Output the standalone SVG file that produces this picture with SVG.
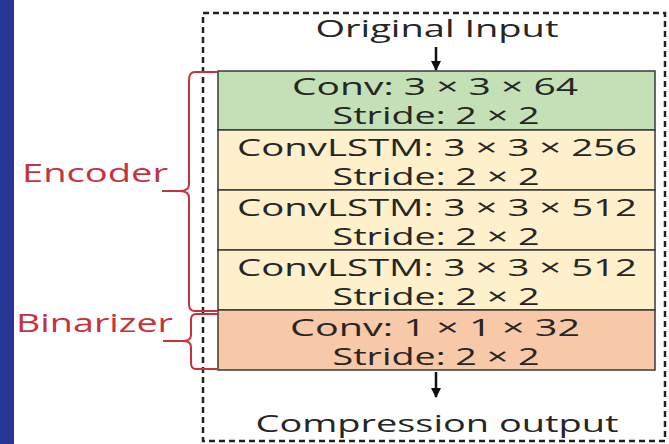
<svg xmlns="http://www.w3.org/2000/svg" width="669" height="444" viewBox="0 0 669 444">
<style>
.t{font-family:"Open Sans","DejaVu Sans",sans-serif;fill:#262626;text-anchor:middle;font-size:23px}
.lbl{font-family:"Open Sans","DejaVu Sans",sans-serif;fill:#c8323c;font-size:26px}
.box{stroke:#3a3a3a;stroke-width:1.5}
.br{fill:none;stroke:#c8323c;stroke-width:2}
</style>
<defs>
<marker id="ah" markerWidth="10" markerHeight="10" refX="9" refY="5" orient="auto" markerUnits="userSpaceOnUse" viewBox="0 0 10 10">
<path d="M0,0 L10,5 L0,10 Z" fill="#111"/>
</marker>
</defs>
<rect x="0" y="0" width="669" height="444" fill="#ffffff"/>
<rect x="0" y="0" width="14" height="444" fill="#283593"/>
<rect id="frame" x="203" y="13" width="462" height="428" fill="none" stroke="#222" stroke-width="2.5" stroke-dasharray="6,4"/>
<g id="input"><text class="t" x="437" y="37" font-size="25" textLength="243" lengthAdjust="spacingAndGlyphs">Original Input</text></g>
<g id="conv1"><rect class="box" x="218" y="71" width="437" height="59" fill="#c3e0b6"/>
<text class="t" x="435" y="95" textLength="286" lengthAdjust="spacingAndGlyphs">Conv: 3 × 3 × 64</text>
<text class="t" x="436" y="124" textLength="207" lengthAdjust="spacingAndGlyphs">Stride: 2 × 2</text></g>
<g id="lstm1"><rect class="box" x="218" y="130" width="437" height="60" fill="#fff0cc"/>
<text class="t" x="437" y="156" textLength="400" lengthAdjust="spacingAndGlyphs">ConvLSTM: 3 × 3 × 256</text>
<text class="t" x="436" y="185" textLength="207" lengthAdjust="spacingAndGlyphs">Stride: 2 × 2</text></g>
<g id="lstm2"><rect class="box" x="218" y="190" width="437" height="60" fill="#fff0cc"/>
<text class="t" x="437" y="216" textLength="400" lengthAdjust="spacingAndGlyphs">ConvLSTM: 3 × 3 × 512</text>
<text class="t" x="436" y="245" textLength="207" lengthAdjust="spacingAndGlyphs">Stride: 2 × 2</text></g>
<g id="lstm3"><rect class="box" x="218" y="250" width="437" height="60" fill="#fff0cc"/>
<text class="t" x="437" y="276" textLength="400" lengthAdjust="spacingAndGlyphs">ConvLSTM: 3 × 3 × 512</text>
<text class="t" x="436" y="305" textLength="207" lengthAdjust="spacingAndGlyphs">Stride: 2 × 2</text></g>
<g id="binconv"><rect class="box" x="218" y="310" width="437" height="60" fill="#f8c9a8"/>
<text class="t" x="435" y="336" textLength="290" lengthAdjust="spacingAndGlyphs">Conv: 1 × 1 × 32</text>
<text class="t" x="436" y="365" textLength="207" lengthAdjust="spacingAndGlyphs">Stride: 2 × 2</text></g>
<g id="output"><text class="t" x="437" y="432" font-size="24" textLength="363" lengthAdjust="spacingAndGlyphs">Compression output</text></g>
<g id="encoder"><text class="lbl" x="22" y="182" textLength="146" lengthAdjust="spacingAndGlyphs">Encoder</text>
<path class="br" d="M218,72 L195,72 Q189,72 189,80 L189,184 Q189,191 180,191 L162,191 M180,191 Q189,191 189,198 L189,304 Q189,311 195,311 L218,311"/></g>
<g id="binarizer"><text class="lbl" x="16" y="332" textLength="157" lengthAdjust="spacingAndGlyphs">Binarizer</text>
<path class="br" d="M218,314 L196,314 Q191,314 191,320 L191,335 Q191,341 183,341 L163,341 M183,341 Q191,341 191,347 L191,363 Q191,369 196,369 L218,369"/></g>
<g id="connectors">
<line x1="436" y1="47" x2="436" y2="70" stroke="#111" stroke-width="2.5" marker-end="url(#ah)"/>
<line x1="436" y1="372" x2="436" y2="397" stroke="#111" stroke-width="2.5" marker-end="url(#ah)"/>
</g>
</svg>
